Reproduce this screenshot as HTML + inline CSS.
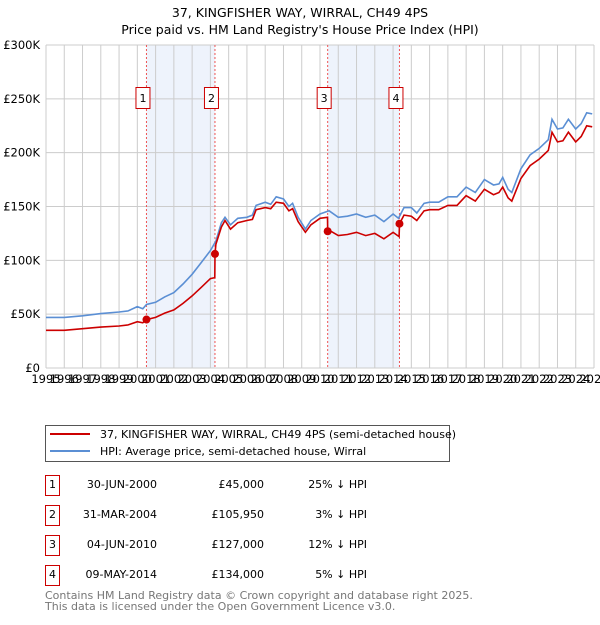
<!DOCTYPE html>
<html><head><meta charset="utf-8"><style>
body{margin:0;background:#fff;font-family:"Liberation Sans","DejaVu Sans",sans-serif}
svg text{font-family:"DejaVu Sans","Liberation Sans",sans-serif}
</style></head><body>
<svg id="c" width="600" height="620" viewBox="0 0 600 620">
<text x="300" y="17" text-anchor="middle" font-size="12.5">37, KINGFISHER WAY, WIRRAL, CH49 4PS</text>
<text x="300" y="34" text-anchor="middle" font-size="12.5">Price paid vs. HM Land Registry's House Price Index (HPI)</text>
<g id="plot"></g>
<g>
<rect x="45.5" y="425.5" width="404" height="36" fill="#fff" stroke="#555"/>
<line x1="50" y1="434" x2="90" y2="434" stroke="#cc0000" stroke-width="2"/>
<text x="100" y="438" font-size="11">37, KINGFISHER WAY, WIRRAL, CH49 4PS (semi-detached house)</text>
<line x1="50" y1="451" x2="90" y2="451" stroke="#5b8fd4" stroke-width="2"/>
<text x="100" y="455" font-size="11">HPI: Average price, semi-detached house, Wirral</text>
</g>
<g id="table" font-size="11"></g>
<text x="45" y="599" font-size="11" fill="#777">Contains HM Land Registry data © Crown copyright and database right 2025.</text>
<text x="45" y="610" font-size="11" fill="#777">This data is licensed under the Open Government Licence v3.0.</text>
</svg>
<script>
const hpiYears=[1995,1996,1997,1998,1999,1999.5,2000,2000.3,2000.5,2001,2001.5,2002,2002.5,2003,2003.5,2004,2004.3,2004.6,2004.8,2005.1,2005.5,2006,2006.3,2006.5,2007,2007.3,2007.6,2008,2008.3,2008.5,2008.8,2009.2,2009.5,2010,2010.5,2011,2011.5,2012,2012.5,2013,2013.5,2014,2014.3,2014.6,2015,2015.3,2015.7,2016,2016.5,2017,2017.5,2018,2018.5,2019,2019.5,2019.8,2020,2020.3,2020.5,2021,2021.5,2022,2022.5,2022.7,2023,2023.3,2023.6,2024,2024.3,2024.6,2024.9];
const hpiValues=[47,47,48.5,50.5,52,53,57,55,59,61,66,70,78,87,98,109,118,135,140,133,139,140,142,151,154,152,159,157,150,153,140,129,137,143,146,140,141,143,140,142,136,143,139,149,149,144,153,154,154,159,159,168,163,175,170,171,177,166,163,185,198,204,212,231,222,223,231,222,227,237,236];
const priceYears=[1995,1996,1997,1998,1999,1999.5,2000,2000.3,2000.5,2001,2001.5,2002,2002.5,2003,2003.5,2004,2004.24,2004.25,2004.3,2004.6,2004.8,2005.1,2005.5,2006,2006.3,2006.5,2007,2007.3,2007.6,2008,2008.3,2008.5,2008.8,2009.2,2009.5,2010,2010.41,2010.42,2010.5,2011,2011.5,2012,2012.5,2013,2013.5,2014,2014.33,2014.35,2014.6,2015,2015.3,2015.7,2016,2016.5,2017,2017.5,2018,2018.5,2019,2019.5,2019.8,2020,2020.3,2020.5,2021,2021.5,2022,2022.5,2022.7,2023,2023.3,2023.6,2024,2024.3,2024.6,2024.9];
const priceValues=[35,35,36.5,38,39,40,43,42,45,47,51,54,60,67,75,83,84,106,115,131,137,129,135,137,138,147,149,148,154,153,146,148,136,126,133,139,140,127,128,123,124,126,123,125,120,126,122,134,142,141,137,146,147,147,151,151,160,155,166,161,163,168,158,155,176,188,194,202,219,210,211,219,210,215,225,224];
const saleLabels=["1","2","3","4"];
const saleYears=[2000.5,2004.25,2010.42,2014.35];
const salePrices=[45,105.95,127,134];
const saleDates=["30-JUN-2000","31-MAR-2004","04-JUN-2010","09-MAY-2014"];
const salePriceText=["£45,000","£105,950","£127,000","£134,000"];
const saleDiffText=["25% ↓ HPI","3% ↓ HPI","12% ↓ HPI","5% ↓ HPI"];
const yTicks=[0,50,100,150,200,250,300];
const yTickLabels=["£0","£50K","£100K","£150K","£200K","£250K","£300K"];

const NS="http://www.w3.org/2000/svg";
const X0=46,X1=594,Y0=368,Y1=45;
const xs=y=>X0+(y-1995)/30*(X1-X0);
const ys=v=>Y0-v/300*(Y0-Y1);
function mk(tag,attrs,parent){const e=document.createElementNS(NS,tag);for(const k in attrs)e.setAttribute(k,attrs[k]);parent.appendChild(e);return e;}
const plot=document.getElementById('plot');
for(let i=0;i<saleYears.length;i+=2){
 const r=mk('rect',{x:xs(saleYears[i]),y:Y1,width:xs(saleYears[i+1])-xs(saleYears[i]),height:Y0-Y1,fill:'#eef3fc'},plot);
 
 
}
for(let y=1995;y<=2025;y++){
 const l=mk('line',{x1:xs(y),x2:xs(y),y1:Y1,y2:Y0,stroke:'#ccc','stroke-width':1},plot);
 
 
 const t=mk('text',{x:xs(y),y:Y0+15,'font-size':11.5,'text-anchor':'middle'},plot);
 t.textContent=String(y);
 
 
}
yTicks.forEach((v,i)=>{
 const l=mk('line',{x1:X0,x2:X1,y1:ys(v),y2:ys(v),stroke:'#ccc','stroke-width':1},plot);
 
 
 const t=mk('text',{x:X0-6,y:ys(v)+4,'font-size':11.5,'text-anchor':'end'},plot);
 t.textContent=yTickLabels[i];
 
 
});
saleYears.forEach((y,i)=>{
 const l=mk('line',{x1:xs(y),x2:xs(y),y1:Y1,y2:Y0,stroke:'#e55','stroke-width':1,'stroke-dasharray':'2,2'},plot);
 
 
 const r=mk('rect',{x:xs(y)-10.5,y:87.5,width:14,height:21,fill:'#fff',stroke:'#cc0000'},plot);
 
 
 const t=mk('text',{x:xs(y)-3.5,y:102,'font-size':11,'text-anchor':'middle'},plot);
 t.textContent=saleLabels[i];
 
 
});
function path(xa,va,color,name){
 const d=xa.map((x,i)=>(i?'L':'M')+xs(x).toFixed(1)+','+ys(va[i]).toFixed(1)).join('');
 const p=mk('path',{d:d,fill:'none',stroke:color,'stroke-width':1.6},plot);
 
 
}
path(hpiYears,hpiValues,'#5b8fd4','hpi-line');
path(priceYears,priceValues,'#cc0000','price-paid-line');
saleYears.forEach((y,i)=>{
 const c=mk('circle',{cx:xs(y),cy:ys(salePrices[i]),r:4,fill:'#cc0000'},plot);
 
 
});
const tb=document.getElementById('table');
saleLabels.forEach((s,i)=>{
 const y=475.5+i*30;
 const r=mk('rect',{x:45.5,y:y,width:14,height:20,fill:'#fff',stroke:'#cc0000'},tb);
 
 
 const a=mk('text',{x:52.5,y:y+12.5,'text-anchor':'middle'},tb);a.textContent=s;
 
 
 const b=mk('text',{x:157,y:y+12.5,'text-anchor':'end'},tb);b.textContent=saleDates[i];
 
 
 const c=mk('text',{x:264,y:y+12.5,'text-anchor':'end'},tb);c.textContent=salePriceText[i];
 
 
 const d=mk('text',{x:367,y:y+12.5,'text-anchor':'end'},tb);d.textContent=saleDiffText[i];
 
 
});
</script>
</body></html>
